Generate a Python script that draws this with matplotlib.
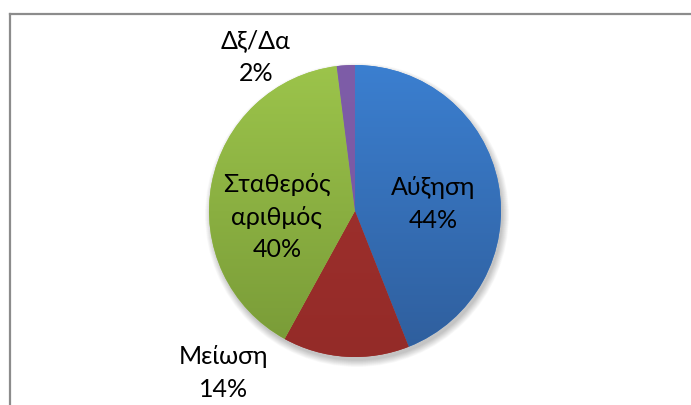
import numpy as np
import matplotlib.pyplot as plt
from matplotlib.colors import LinearSegmentedColormap
from matplotlib.patches import Circle
from matplotlib.lines import Line2D

labels = ['Αύξηση', 'Μείωση', 'Σταθερός\nαριθμός', 'Δξ/Δα']
values = [44, 14, 40, 2]
top_colors = ['#3b7fd0', '#a3322f', '#9cc44b', '#7e5da8']
bottom_colors = ['#2f5e9c', '#942b28', '#789a37', '#77559f']

plt.rcParams['font.family'] = ['Lato', 'DejaVu Sans']

W, H = 691, 406
fig = plt.figure(figsize=(W / 100, H / 100), dpi=100)
ax = fig.add_axes([0, 0, 1, 1])

cx, cy, r = 355, H - 212, 146

# soft shadow under the pie
for i in range(12):
    ax.add_patch(Circle((cx + 2, cy - 4), r + 6 - i * 0.6, color='black',
                        alpha=0.018, lw=0, zorder=0))

wedges, _ = ax.pie(values, startangle=90, counterclock=False,
                   center=(cx, cy), radius=r, frame=True,
                   wedgeprops=dict(linewidth=0, zorder=1))

# vertical gradient fill for each slice, lighter at the top
grad = np.linspace(0, 1, 256).reshape(-1, 1)
for w, c0, c1 in zip(wedges, top_colors, bottom_colors):
    w.set_facecolor(c0)
    cmap = LinearSegmentedColormap.from_list('g', [c0, c1])
    im = ax.imshow(grad, cmap=cmap, extent=(cx - r, cx + r, cy - r, cy + r),
                   aspect='auto', zorder=2, interpolation='bilinear')
    im.set_clip_path(w)

ax.set_xlim(0, W)
ax.set_ylim(0, H)
ax.axis('off')

fs = 18
ls = 1.5
ax.text(433, H - 204, f'{labels[0]}\n{values[0]}%', ha='center', va='center',
        fontsize=fs, linespacing=ls, zorder=5)
ax.text(277, H - 217, f'{labels[2]}\n{values[2]}%', ha='center', va='center',
        fontsize=fs, linespacing=ls, zorder=5)
ax.text(224, H - 373, f'{labels[1]}\n{values[1]}%', ha='center', va='center',
        fontsize=fs, linespacing=ls, zorder=5)
ax.text(256, H - 57, f'{labels[3]}\n{values[3]}%', ha='center', va='center',
        fontsize=fs, linespacing=ls, zorder=5)

# chart area border
fig.add_artist(Line2D([9.5 / W, 9.5 / W], [0, 1 - 14.5 / H], color='#8c8c8c', lw=1.6))
fig.add_artist(Line2D([9.5 / W, 1], [1 - 14.5 / H, 1 - 14.5 / H], color='#8c8c8c', lw=1.6))

fig.savefig('out.png', dpi=100)
